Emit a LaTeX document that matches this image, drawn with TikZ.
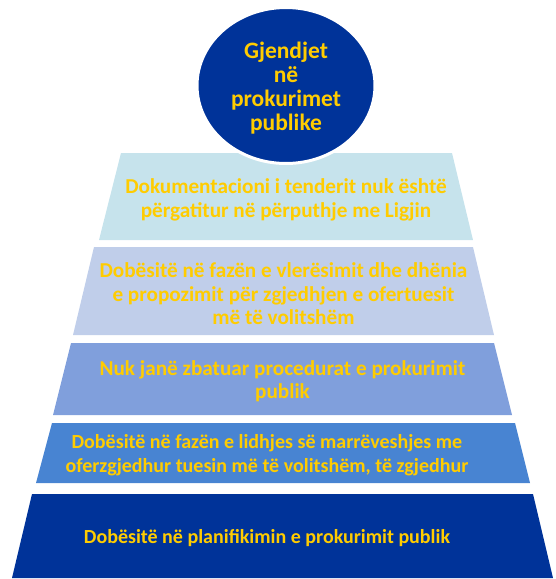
\documentclass[tikz,border=0pt]{standalone}
\usepackage{fontspec}
\setmainfont{Carlito}
\usetikzlibrary{shapes.geometric}
\definecolor{dblue}{RGB}{0,51,153}
\definecolor{lvA}{RGB}{198,227,236}
\definecolor{lvB}{RGB}{192,206,234}
\definecolor{lvC}{RGB}{128,159,220}
\definecolor{lvD}{RGB}{72,132,210}
\definecolor{gold}{RGB}{255,204,0}
\tikzset{
  lbl/.style={text=gold, font=\bfseries\fontsize{20}{23.5}\selectfont, align=center, inner sep=0pt},
  biglbl/.style={lbl, font=\bfseries\fontsize{21.2}{23.5}\selectfont},
  toplbl/.style={lbl, font=\bfseries\fontsize{23.5}{24}\selectfont},
}
\begin{document}
\begin{tikzpicture}[x=1pt,y=-1pt]
\useasboundingbox (0,0) rectangle (555,579);
% levels
\fill[lvA] (121,153) -- (452,153) -- (473,240) -- (99,240) -- cycle;
\fill[lvB] (94,247) -- (473,247) -- (494,335) -- (73,335) -- cycle;
\fill[lvC] (71,343) -- (494,343) -- (512,415) -- (53,415) -- cycle;
\fill[lvD] (52,423) -- (515,423) -- (530,483) -- (36,483) -- cycle;
\fill[dblue] (32,494) -- (533,494) -- (553,578) -- (12,578) -- cycle;
% top ellipse
\node[ellipse, fill=dblue, draw=white, line width=3pt, minimum width=178pt, minimum height=156pt, inner sep=0pt] (top) at (286,85.5) {};
\node[toplbl] (topt) at (286,88) {Gjendjet\\në\\prokurimet\\publike};
\node[biglbl] (l1) at (286,200) {Dokumentacioni i tenderit nuk është\\përgatitur në përputhje me Ligjin};
\node[biglbl] (l2) at (283.5,294) {Dobësitë në fazën e vlerësimit dhe dhënia\\e propozimit për zgjedhjen e ofertuesit\\më të volitshëm};
\node[biglbl] (l3) at (282.5,381) {Nuk janë zbatuar procedurat e prokurimit\\publik};
\node[lbl] (l4) at (267,455) {Dobësitë në fazën e lidhjes së marrëveshjes me\\oferzgjedhur tuesin më të volitshëm, të zgjedhur};
\node[lbl] (l5) at (267,538) {Dobësitë në planifikimin e prokurimit publik};
\end{tikzpicture}
\end{document}
